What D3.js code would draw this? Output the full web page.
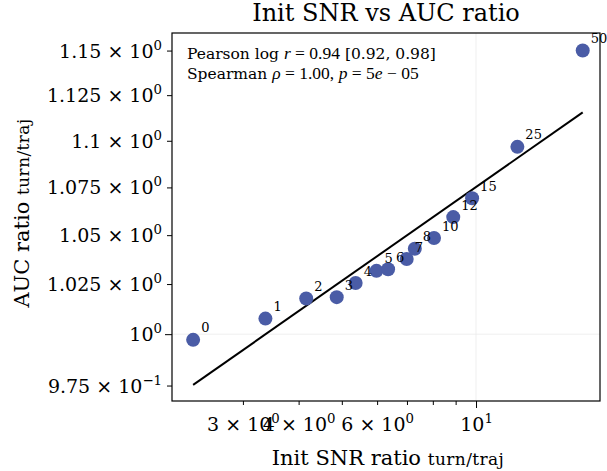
<!DOCTYPE html>
<html>
<head>
<meta charset="utf-8">
<script src="https://cdn.jsdelivr.net/npm/d3@7"></script>
<style>
body{margin:0;background:#fff}
text{font-family:"DejaVu Serif",serif;fill:#000}
</style>
</head>
<body>
<svg id="chart" width="607" height="471"></svg>
<script>
// point labels and values
const pointLabels = ["0","1","2","3","4","5","6","7","8","10","12","15","25","50"];
const snrRatio = [2.32,3.37,4.16,4.87,5.37,5.98,6.35,6.99,7.29,8.05,8.89,9.80,12.38,17.35];
const aucRatio = [0.9972,1.0077,1.0177,1.0184,1.0255,1.0317,1.0325,1.0377,1.0430,1.0485,1.0594,1.0693,1.0967,1.150];

// log-log fit line ends
const fitX = [2.32, 17.35];
const fitY = [0.9753, 1.1155];

const xTicks = [3,4,5,6,7,8,9,10];
const xMajor = [10];
const xTickLabels = {3:["3","0"], 4:["4","0"], 6:["6","0"], 10:[null,"1"]};
const yTicks = [0.975,1.0,1.025,1.05,1.075,1.1,1.125,1.15];
const yMajor = [1.0];
const yTickLabels = [["9.75","\u22121"],[null,"0"],["1.025","0"],["1.05","0"],["1.075","0"],["1.1","0"],["1.125","0"],["1.15","0"]];

const W = 607, H = 471;
const m = {left:172, top:33, right:7, bottom:70};

const svg = d3.select("#chart");

const x = d3.scaleLog().domain([2.08, 18.97]).range([m.left, W - m.right]);
const y = d3.scaleLog().domain([0.9676, 1.160]).range([H - m.bottom, m.top]);

// grid only on the decade ticks
svg.append("g").selectAll("line").data(xMajor).join("line")
  .attr("x1", d => x(d)).attr("x2", d => x(d))
  .attr("y1", m.top).attr("y2", H - m.bottom)
  .attr("stroke", "#ebebeb").attr("stroke-width", 0.8);
svg.append("g").selectAll("line").data(yMajor).join("line")
  .attr("x1", m.left).attr("x2", W - m.right)
  .attr("y1", d => y(d)).attr("y2", d => y(d))
  .attr("stroke", "#ebebeb").attr("stroke-width", 0.8);

function sciLabel(sel, mant, exp, fs){
  const t = sel.append("text").attr("font-size", fs);
  t.append("tspan").text(mant ? mant + " \u00d7 10" : "10");
  t.append("tspan").attr("dy", -0.42*fs).attr("font-size", fs*0.7).text(exp);
  return t;
}

// x axis
const gx = svg.append("g").attr("transform", `translate(0,${H - m.bottom})`)
  .call(d3.axisBottom(x).tickValues(xTicks).tickFormat("").tickSizeOuter(0));
gx.select(".domain").remove();
gx.selectAll(".tick line").attr("y2", d => xMajor.includes(d) ? 7 : 4)
  .attr("stroke", "#000").attr("stroke-width", 1);
gx.selectAll(".tick").each(function(d){
  const lb = xTickLabels[d];
  if(!lb) return;
  sciLabel(d3.select(this), lb[0], lb[1], 19)
    .attr("text-anchor", "middle").attr("y", 30);
});

// y axis
const gy = svg.append("g").attr("transform", `translate(${m.left},0)`)
  .call(d3.axisLeft(y).tickValues(yTicks).tickFormat("").tickSizeOuter(0));
gy.select(".domain").remove();
gy.selectAll(".tick line").attr("x2", d => yMajor.includes(d) ? -7 : -5)
  .attr("stroke", "#000").attr("stroke-width", 1);
gy.selectAll(".tick").each(function(d, i){
  const lb = yTickLabels[i];
  sciLabel(d3.select(this), lb[0], lb[1], 19)
    .attr("text-anchor", "end").attr("x", -10).attr("y", 6.5);
});

// fit line
svg.append("path")
  .datum(fitX.map((v, i) => [v, fitY[i]]))
  .attr("d", d3.line().x(d => x(d[0])).y(d => y(d[1])))
  .attr("fill", "none").attr("stroke", "#000").attr("stroke-width", 2);

// points
const pts = pointLabels.map((l, i) => ({l, sx: snrRatio[i], ay: aucRatio[i]}));
svg.append("g").selectAll("circle").data(pts).join("circle")
  .attr("cx", d => x(d.sx)).attr("cy", d => y(d.ay)).attr("r", 7)
  .attr("fill", "#4a5ca6");
svg.append("g").selectAll("text").data(pts).join("text")
  .attr("x", d => x(d.sx) + 8).attr("y", d => y(d.ay) - 7.5)
  .attr("font-size", 13).text(d => d.l);

// frame
svg.append("rect")
  .attr("x", m.left).attr("y", m.top)
  .attr("width", W - m.right - m.left).attr("height", H - m.bottom - m.top)
  .attr("fill", "none").attr("stroke", "#000").attr("stroke-width", 1.2);

// stats text
const mathFont = "Liberation Serif";
const t1 = svg.append("text").attr("x", 187).attr("y", 59).attr("font-size", 15.5);
t1.append("tspan").text("Pearson log ");
t1.append("tspan").attr("font-family", mathFont).attr("font-style", "italic").attr("font-size", 17.5).text("r");
t1.append("tspan").attr("font-family", mathFont).attr("font-size", 17.5).text(" = 0.94");
t1.append("tspan").text(" [0.92, 0.98]");
const t2 = svg.append("text").attr("x", 187).attr("y", 79).attr("font-size", 15.5);
t2.append("tspan").text("Spearman ");
t2.append("tspan").attr("font-family", mathFont).attr("font-style", "italic").attr("font-size", 17.5).text("\u03c1");
t2.append("tspan").attr("font-family", mathFont).attr("font-size", 17.5).text(" = 1.00, ");
t2.append("tspan").attr("font-family", mathFont).attr("font-style", "italic").attr("font-size", 17.5).text("p");
t2.append("tspan").attr("font-family", mathFont).attr("font-size", 17.5).text(" = 5");
t2.append("tspan").attr("font-family", mathFont).attr("font-style", "italic").attr("font-size", 17.5).text("e");
t2.append("tspan").attr("font-family", mathFont).attr("font-size", 17.5).text(" \u2212 05");

// title
svg.append("text").attr("x", (m.left + W - m.right) / 2).attr("y", 21)
  .attr("text-anchor", "middle").attr("font-size", 24).text("Init SNR vs AUC ratio");

// axis labels
const xl = svg.append("text").attr("x", 388).attr("y", 465)
  .attr("text-anchor", "middle").attr("font-size", 21);
xl.append("tspan").text("Init SNR ratio ");
xl.append("tspan").attr("font-size", 17).attr("letter-spacing", 0.4).text("turn/traj");

const yl = svg.append("text")
  .attr("transform", `translate(29,213) rotate(-90)`)
  .attr("text-anchor", "middle").attr("font-size", 21);
yl.append("tspan").text("AUC ratio ");
yl.append("tspan").attr("font-size", 17).attr("letter-spacing", 0.4).text("turn/traj");
</script>
</body>
</html>
